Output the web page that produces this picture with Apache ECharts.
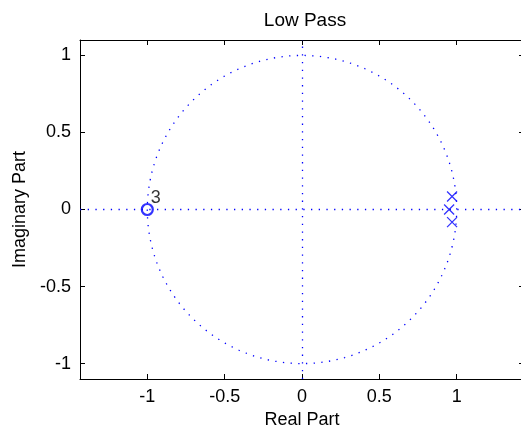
<!DOCTYPE html>
<html>
<head>
<meta charset="utf-8">
<script src="https://cdn.jsdelivr.net/npm/echarts@6/dist/echarts.min.js"></script>
<style>
	html, body { margin: 0; padding: 0; background: #fff; }
	#chart { width: 521px; height: 433px; }
</style>
</head>
<body>
<div id="chart"></div>
<script>
// zeros and poles of the filter (real, imaginary)
var zeroPoints = [[-1, 0]];
var zeroMultiplicity = ['3'];
var polePoints = [[0.970, 0.084], [0.951, 0], [0.970, -0.082]];

var xTicks = [-1, -0.5, 0, 0.5, 1];
var yTicks = [-1, -0.5, 0, 0.5, 1];
var xRange = [-1.435, 1.435];
var yRange = [-1.1, 1.1];

// unit circle guide
var unitRadius = 1;
var circlePoints = [];
for (var i = 0; i <= 180; i++) {
	var a = i / 180 * 2 * Math.PI;
	circlePoints.push([unitRadius * Math.cos(a), unitRadius * Math.sin(a)]);
}

var blue = '#0000ff';
var font = 'Liberation Sans, Arial, sans-serif';
var textStyle = {color: '#000', fontFamily: font, fontSize: 18};

function tickFmt(v) {
	return String(v);
}

var chart = echarts.init(document.getElementById('chart'));

var dotted = {color: blue, width: 1.3, type: [1.3, 6.4]};

var hiddenAxisBase = {
	axisLine: {show: true, onZero: false, lineStyle: {color: '#000', width: 1}},
	axisLabel: {show: false},
	splitLine: {show: false}
};

var option = {
	backgroundColor: '#fff',
	animation: false,
	title: {
		text: 'Low Pass',
		left: 300,
		top: 6,
		textAlign: 'center',
		textStyle: {color: '#000', fontFamily: font, fontSize: 19, fontWeight: 'normal'}
	},
	grid: {left: 80, right: -3, top: 40, bottom: 54, outerBoundsMode: 'none', containLabel: false},
	xAxis: [
		{
			type: 'value', position: 'bottom', min: xRange[0], max: xRange[1],
			name: 'Real Part', nameLocation: 'middle', nameGap: 31,
			nameTextStyle: textStyle,
			axisLine: {show: true, onZero: false, lineStyle: {color: '#000', width: 1}},
			axisTick: {show: true, inside: true, length: 5, customValues: xTicks, lineStyle: {color: '#000'}},
			axisLabel: {customValues: xTicks, formatter: tickFmt, margin: 9, color: '#000', fontFamily: font, fontSize: 18},
			splitLine: {show: false}
		},
		Object.assign({type: 'value', position: 'top', min: xRange[0], max: xRange[1]}, hiddenAxisBase,
			{axisTick: {show: true, inside: true, length: 5, customValues: xTicks, lineStyle: {color: '#000'}}})
	],
	yAxis: [
		{
			type: 'value', position: 'left', min: yRange[0], max: yRange[1],
			name: 'Imaginary Part', nameLocation: 'middle', nameGap: 50, nameRotate: 90,
			nameTextStyle: textStyle,
			axisLine: {show: true, onZero: false, lineStyle: {color: '#000', width: 1}},
			axisTick: {show: true, inside: true, length: 5, customValues: yTicks, lineStyle: {color: '#000'}},
			axisLabel: {customValues: yTicks, formatter: tickFmt, margin: 9, color: '#000', fontFamily: font, fontSize: 18},
			splitLine: {show: false}
		},
		Object.assign({type: 'value', position: 'right', min: yRange[0], max: yRange[1]}, hiddenAxisBase,
			{axisTick: {show: true, inside: true, length: 5, customValues: yTicks, lineStyle: {color: '#000'}}})
	],
	series: [
		{
			name: 'unit circle',
			type: 'line',
			data: circlePoints,
			showSymbol: false,
			silent: true,
			lineStyle: dotted,
			markLine: {
				silent: true,
				symbol: ['none', 'none'],
				label: {show: false},
				lineStyle: dotted,
				data: [{xAxis: 0}, {yAxis: 0}]
			},
			z: 1
		},
		{
			name: 'zeros',
			type: 'scatter',
			data: zeroPoints,
			symbol: 'circle',
			symbolSize: 11,
			itemStyle: {color: 'rgba(0,0,0,0)', borderColor: blue, borderWidth: 2.2},
			label: {
				show: true,
				formatter: function (p) { return zeroMultiplicity[p.dataIndex]; },
				position: [10, -14],
				align: 'left',
				verticalAlign: 'top',
				color: '#000',
				fontFamily: font,
				fontSize: 18
			},
			z: 3
		},
		{
			name: 'poles',
			type: 'scatter',
			data: polePoints,
			symbol: 'path://M0,0L10,10M10,0L0,10',
			symbolSize: 10,
			itemStyle: {color: 'none', borderColor: blue, borderWidth: 1.3},
			z: 3
		}
	]
};

chart.setOption(option);
</script>
</body>
</html>
